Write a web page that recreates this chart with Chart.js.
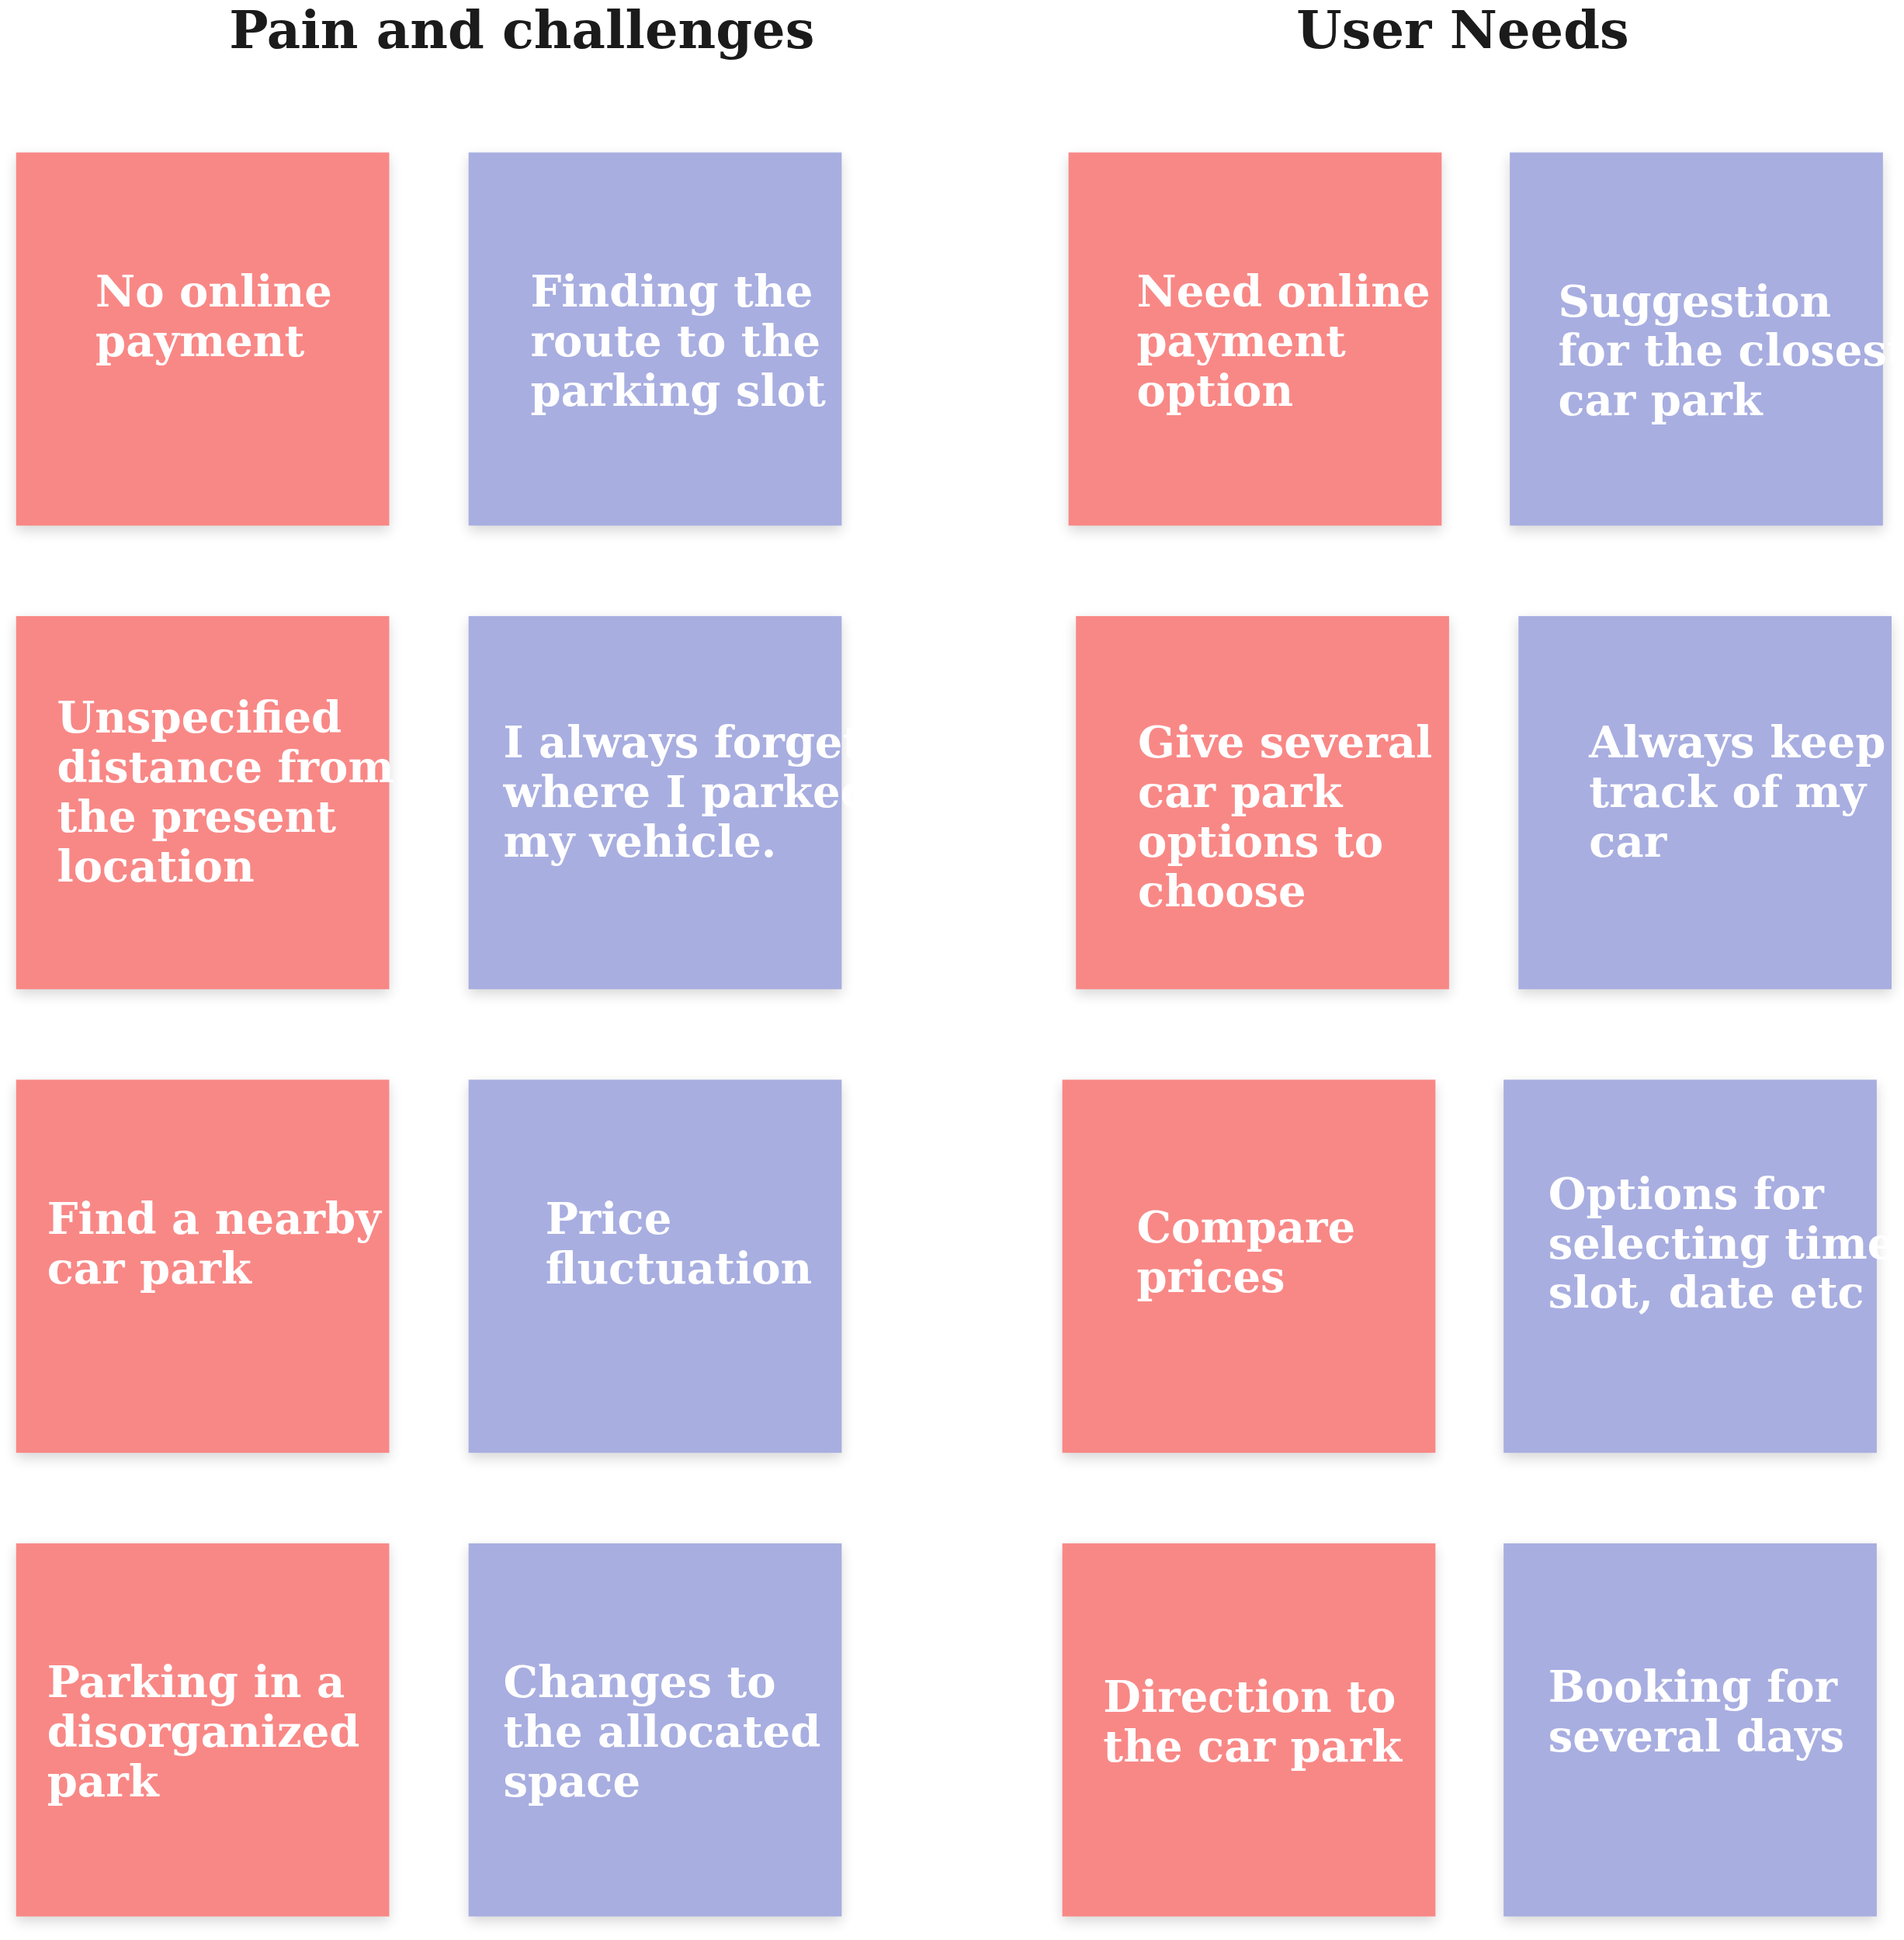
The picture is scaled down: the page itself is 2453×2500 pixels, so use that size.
<!DOCTYPE html>
<html>
<head>
<meta charset="utf-8">
<script src="https://cdn.jsdelivr.net/npm/chart.js@4"></script>
<style>
  html, body { margin: 0; padding: 0; background: #fff; }
  #wrap { width: 2453px; height: 2500px; position: relative; }
</style>
</head>
<body>
<div id="wrap"><canvas id="board"></canvas></div>
<script>
// board units follow the reference layout (1536 x 1565), scaled by Chart.js to the canvas
const boardW = 1536, boardH = 1565, noteSize = 301;

const titles = ['Pain and challenges', 'User Needs'];
const titleX = [421, 1180];

const noteTexts = [
  ['No online', 'payment'],
  ['Finding the', 'route to the', 'parking slot'],
  ['Need online', 'payment', 'option'],
  ['Suggestion', 'for the closest', 'car park'],
  ['Unspecified', 'distance from', 'the present', 'location'],
  ['I always forget', 'where I parked', 'my vehicle.'],
  ['Give several', 'car park', 'options to', 'choose'],
  ['Always keep', 'track of my', 'car'],
  ['Find a nearby', 'car park'],
  ['Price', 'fluctuation'],
  ['Compare', 'prices'],
  ['Options for', 'selecting time,', 'slot, date etc'],
  ['Parking in a', 'disorganized', 'park'],
  ['Changes to', 'the allocated', 'space'],
  ['Direction to', 'the car park'],
  ['Booking for', 'several days']
];
const noteKind = ['pain','pain','need','need','pain','pain','need','need','pain','pain','need','need','pain','pain','need','need'];
const noteLeft = [13, 378, 862, 1218, 13, 378, 868, 1225, 13, 378, 857, 1213, 13, 378, 857, 1213];
const noteTop  = [123, 123, 123, 123, 497, 497, 497, 497, 871, 871, 871, 871, 1245, 1245, 1245, 1245];
const textLeft = [77, 428, 917, 1257, 46, 406, 918, 1282, 38, 440, 917, 1249, 38, 406, 890, 1249];
const textMid  = [258, 278, 278, 286, 642, 642, 662, 642, 1006, 1006, 1013, 1006, 1400, 1400, 1392, 1384];

const colorOf = i => (i % 2 === 0 ? '#F88886' : '#A8AEE0');

const notesPlugin = {
  id: 'notes',
  afterDatasetsDraw(chart) {
    const ctx = chart.ctx, xs = chart.scales.x, ys = chart.scales.y;
    const k = xs.getPixelForValue(1) - xs.getPixelForValue(0);
    const pts = chart.data.datasets[0].data;
    pts.forEach((p, i) => {
      const x0 = xs.getPixelForValue(p.x), y0 = ys.getPixelForValue(p.y);
      const x1 = xs.getPixelForValue(p.x + noteSize), y1 = ys.getPixelForValue(p.y + noteSize);
      ctx.save();
      ctx.shadowColor = 'rgba(0,0,0,0.16)';
      ctx.shadowBlur = 10 * k;
      ctx.shadowOffsetY = 4 * k;
      ctx.fillStyle = colorOf(i);
      ctx.fillRect(x0, y0, x1 - x0, y1 - y0);
      ctx.restore();

      const lines = noteTexts[i];
      const lh = 40 * k;
      ctx.save();
      ctx.fillStyle = '#fff';
      ctx.font = `bold ${Math.round(35 * k)}px "DejaVu Serif", "Liberation Serif", serif`;
      ctx.textAlign = 'left';
      ctx.textBaseline = 'middle';
      const tx = xs.getPixelForValue(textLeft[i]);
      const mid = ys.getPixelForValue(textMid[i]);
      lines.forEach((ln, j) => {
        ctx.fillText(ln, tx, mid + (j - (lines.length - 1) / 2) * lh);
      });
      ctx.restore();
    });

    ctx.save();
    ctx.fillStyle = '#1b1b1b';
    ctx.font = `bold ${Math.round(42 * k)}px "DejaVu Serif", "Liberation Serif", serif`;
    ctx.textAlign = 'center';
    ctx.textBaseline = 'middle';
    titles.forEach((t, i) => ctx.fillText(t, xs.getPixelForValue(titleX[i]), ys.getPixelForValue(28)));
    ctx.restore();
  }
};

new Chart(document.getElementById('board'), {
  type: 'scatter',
  data: {
    datasets: [{
      label: 'notes',
      data: noteLeft.map((x, i) => ({ x, y: noteTop[i], kind: noteKind[i] })),
      pointRadius: 0
    }]
  },
  options: {
    responsive: true,
    maintainAspectRatio: false,
    animation: false,
    layout: { padding: 0 },
    plugins: { legend: { display: false }, tooltip: { enabled: false } },
    scales: {
      x: { type: 'linear', min: 0, max: boardW, display: false },
      y: { type: 'linear', min: 0, max: boardH, reverse: true, display: false }
    }
  },
  plugins: [notesPlugin]
});
</script>
</body>
</html>
